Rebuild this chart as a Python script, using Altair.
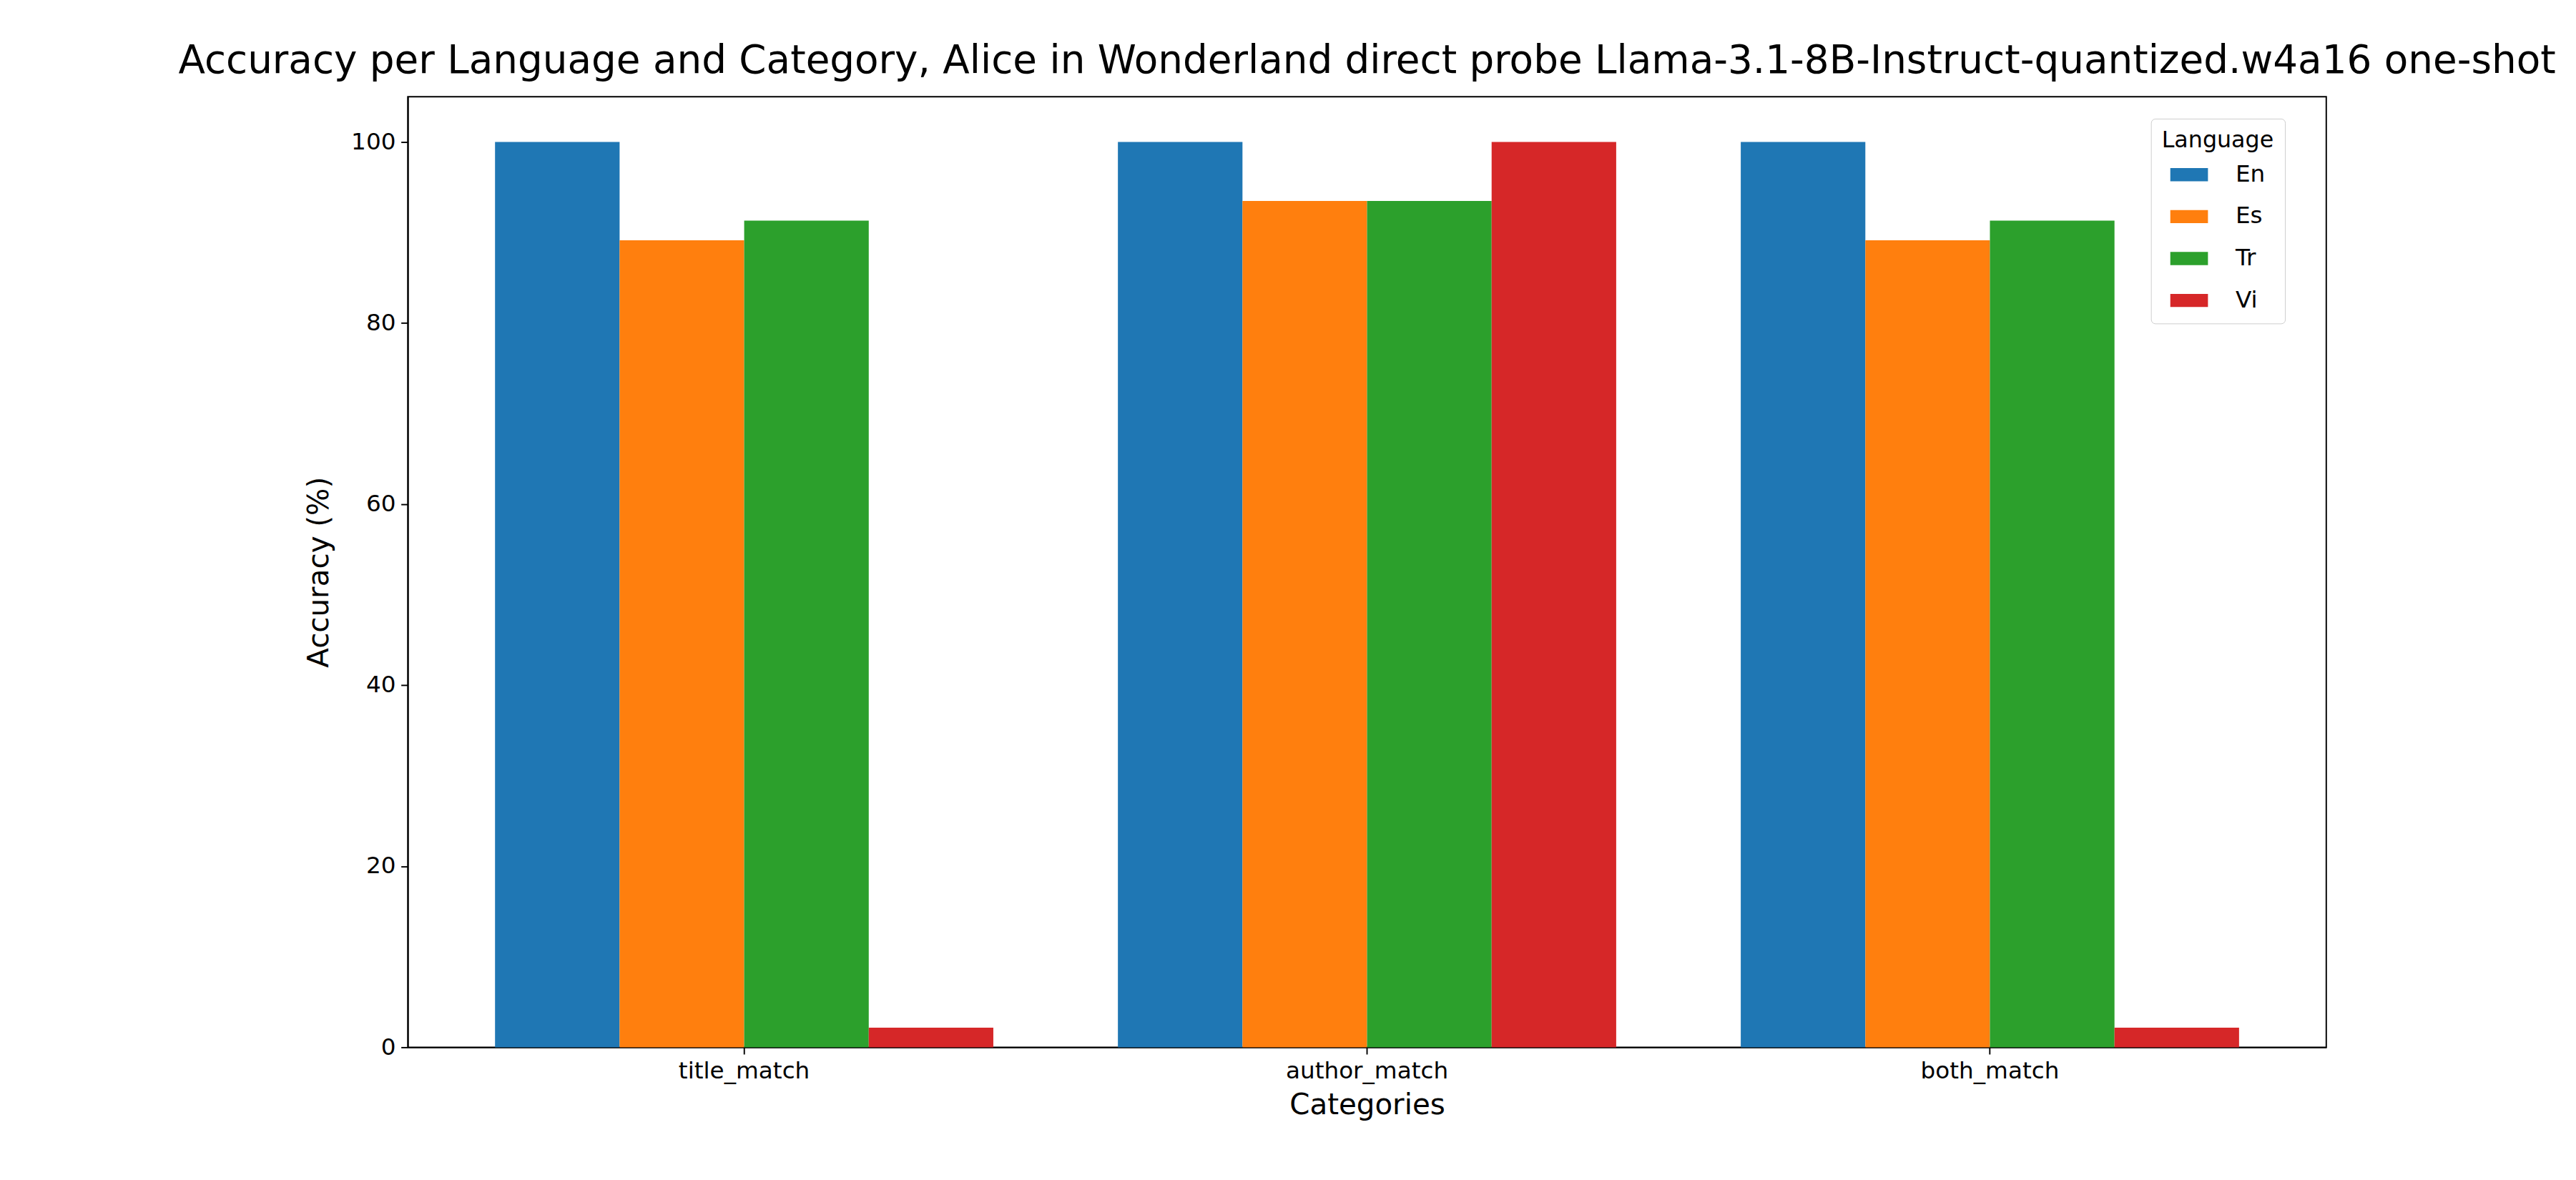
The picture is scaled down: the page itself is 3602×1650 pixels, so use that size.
import altair as alt
import pandas as pd

categories = ["title_match", "author_match", "both_match"]
languages = ["En", "Es", "Tr", "Vi"]
values = {
    "En": [100.0, 100.0, 100.0],
    "Es": [89.13, 93.48, 89.13],
    "Tr": [91.30, 93.48, 91.30],
    "Vi": [2.17, 100.0, 2.17],
}
colors = ["#1f77b4", "#ff7f0e", "#2ca02c", "#d62728"]

rows = []
for lang in languages:
    for c, v in zip(categories, values[lang]):
        rows.append({"Category": c, "Language": lang, "Accuracy": v})
df = pd.DataFrame(rows)

F = "DejaVu Sans"
chart = alt.Chart(df).mark_bar().encode(
    x=alt.X("Category:N", sort=categories, title="Categories",
            scale=alt.Scale(paddingInner=0.2, paddingOuter=0.14),
            axis=alt.Axis(labelAngle=0, labelFontSize=34, titleFontSize=42, titleFontWeight="normal",
                          labelColor="black", titleColor="black", tickSize=10, tickColor="black",
                          domainColor="black", labelPadding=8, titlePadding=12, labelFont=F, titleFont=F,
                          labelLimit=0)),
    xOffset=alt.XOffset("Language:N", sort=languages),
    y=alt.Y("Accuracy:Q", title="Accuracy (%)", scale=alt.Scale(domain=[0, 105], nice=False),
            axis=alt.Axis(values=[0, 20, 40, 60, 80, 100], grid=False, labelFontSize=34, titleFontSize=42,
                          titleFontWeight="normal", labelColor="black", titleColor="black", tickSize=10,
                          tickColor="black", domainColor="black", labelPadding=8, titlePadding=24,
                          labelFont=F, titleFont=F)),
    color=alt.Color("Language:N", sort=languages, scale=alt.Scale(domain=languages, range=colors),
                    legend=alt.Legend(orient="none", legendX=2536, legendY=32, title="Language",
                                      titleFontSize=33, labelFontSize=34, titleFontWeight="normal",
                                      titleFont=F, labelFont=F, titleAnchor="middle",
                                      symbolType="M-1,-0.35L1,-0.35L1,0.35L-1,0.35Z", symbolSize=3000,
                                      symbolStrokeWidth=0, fillColor="white", strokeColor="#cccccc",
                                      padding=16, cornerRadius=6, rowPadding=16, labelOffset=40,
                                      labelColor="black", titleColor="black")),
).properties(
    width=2791, height=1383,
    padding={"left": 250, "top": 20, "right": 20, "bottom": 10},
    title=alt.TitleParams("Accuracy per Language and Category, Alice in Wonderland direct probe Llama-3.1-8B-Instruct-quantized.w4a16 one-shot",
                          fontSize=57, fontWeight="normal", font=F, color="black", offset=22),
).configure_view(stroke="black", strokeWidth=2).configure_axis(domainWidth=2, tickWidth=2)

chart.save("out.html", embed_options={"renderer": "svg", "actions": False})
